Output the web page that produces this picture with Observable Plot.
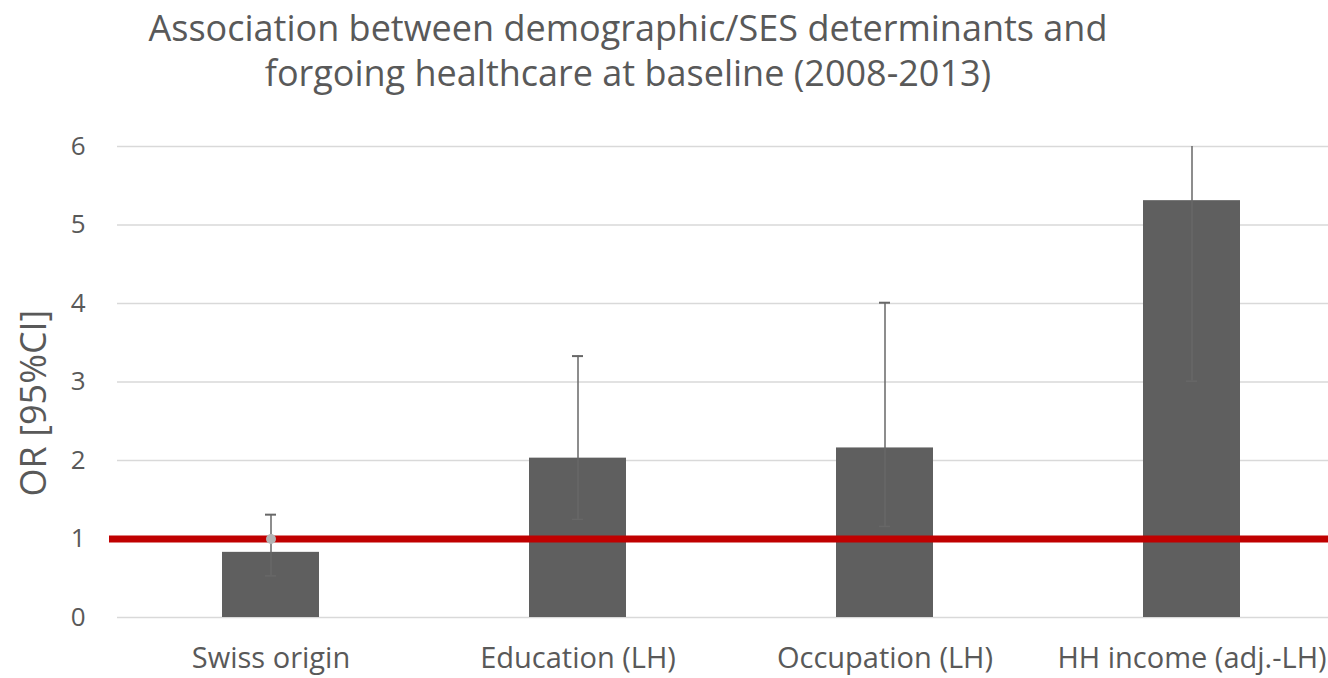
<!DOCTYPE html>
<html>
<head>
<meta charset="utf-8">
<script src="https://cdn.jsdelivr.net/npm/d3@7"></script>
<script src="https://cdn.jsdelivr.net/npm/@observablehq/plot@0.6"></script>
<style>
  html, body { margin: 0; padding: 0; background: #fff; overflow: hidden; width: 1328px; height: 678px; }
  #title { width: 1256px; height: 110px; box-sizing: border-box; padding-top: 5px; text-align: center;
           font-family: "Open Sans", sans-serif; font-size: 36px; line-height: 45px; color: #595959; white-space: nowrap; }
  #chart svg { display: block; overflow: visible; }
</style>
</head>
<body>
<div id="title">Association between demographic/SES determinants and<br>forgoing healthcare at baseline (2008-2013)</div>
<div id="chart"></div>
<script>
const categories = ["Swiss origin", "Education (LH)", "Occupation (LH)", "HH income (adj.-LH)"];
const oddsRatios = [0.83, 2.03, 2.16, 5.31];
const ciLower = [0.53, 1.25, 1.16, 3.01];
const ciUpper = [1.31, 3.33, 4.01, 9.37];
const referenceOR = [1];
const yTicks = [0, 1, 2, 3, 4, 5, 6];
const yLabel = "OR [95%CI]";
const markerPoints = [{cat: "Swiss origin", v: 1}];

const data = categories.map((c, i) => ({cat: c, or: oddsRatios[i], lo: ciLower[i], hi: ciUpper[i]}));

const font = "'Open Sans', sans-serif";
const plot = Plot.plot({
  width: 1345,
  height: 568,
  marginLeft: 117,
  marginRight: 0,
  marginTop: 36,
  marginBottom: 61,
  style: {fontFamily: font, fontSize: "20px", color: "#595959", background: "#fff", maxWidth: "none", overflow: "visible"},
  x: {domain: categories, paddingInner: 0.684, paddingOuter: 0.342, label: null},
  y: {domain: [0, 6], ticks: yTicks, label: null},
  marks: [
    Plot.ruleY(yTicks, {stroke: "#d9d9d9", strokeWidth: 1.3}),
    Plot.axisY({ticks: yTicks, tickSize: 0, tickPadding: 32, label: null, fontSize: 26, tickFormat: d => d}),
    Plot.axisX({tickSize: 0, tickPadding: 30, label: null, fontSize: 29}),
    Plot.barY(data, {x: "cat", y: "or", fill: "#5f5f5f"}),
    Plot.ruleX(data, {x: "cat", y1: "lo", y2: "hi", stroke: "#676767", strokeWidth: 1.5, clip: true}),
    Plot.tickY(data.filter(d => d.hi <= 6), {x: "cat", y: "hi", stroke: "#676767", strokeWidth: 2, insetLeft: 43, insetRight: 43}),
    Plot.tickY(data, {x: "cat", y: "lo", stroke: "#676767", strokeWidth: 1.5, insetLeft: 43, insetRight: 43}),
    Plot.ruleY(referenceOR, {stroke: "#c00000", strokeWidth: 7, insetLeft: -8}),
    Plot.dot(markerPoints, {x: "cat", y: "v", r: 5, fill: "#b4b4b4", stroke: "none"}),
    Plot.text([yLabel], {frameAnchor: "left", textAnchor: "middle", rotate: -90, dx: -83, dy: 21, fontSize: 36, fill: "#595959"})
  ]
});
document.getElementById("chart").appendChild(plot);
</script>
</body>
</html>
